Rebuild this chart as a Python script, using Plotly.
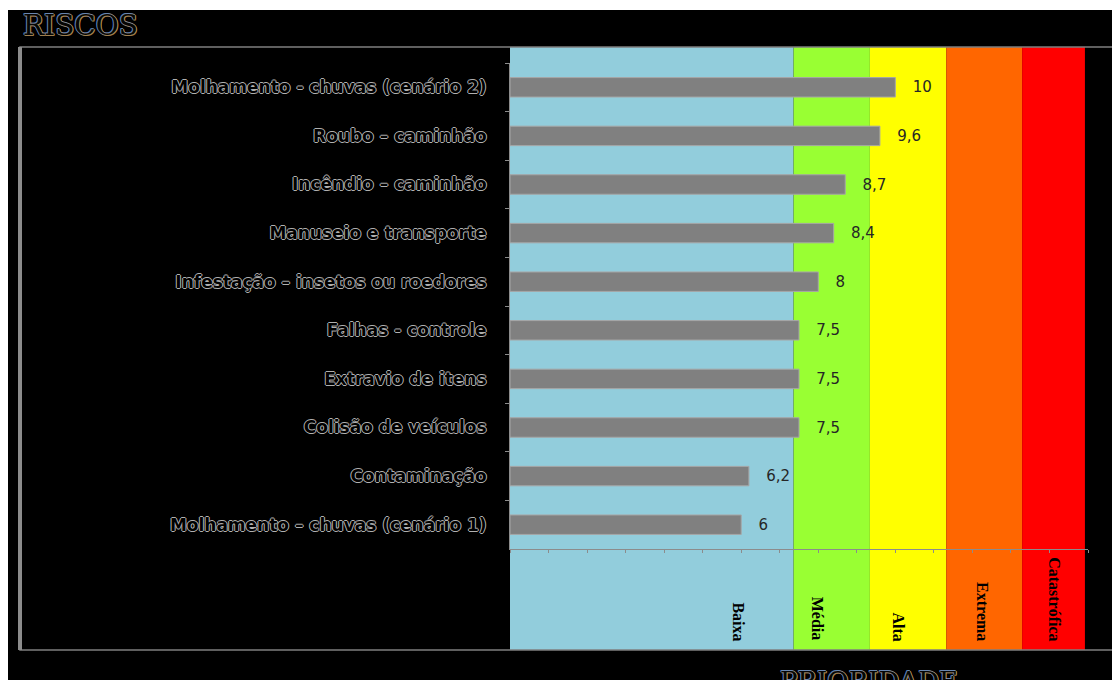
import plotly.graph_objects as go

# ---------------- data ----------------
categories = [
    "Molhamento - chuvas (cenário 2)",
    "Roubo – caminhão",
    "Incêndio – caminhão",
    "Manuseio e transporte",
    "Infestação – insetos ou roedores",
    "Falhas - controle",
    "Extravio de itens",
    "Colisão de veículos",
    "Contaminação",
    "Molhamento – chuvas (cenário 1)",
]
values = [10, 9.6, 8.7, 8.4, 8, 7.5, 7.5, 7.5, 6.2, 6]

band_names = ["Baixa", "Média", "Alta", "Extrema", "Catastrófica"]
band_start = [-0.08, 7.36, 9.34, 11.32, 13.29]
band_end = [7.36, 9.34, 11.32, 13.29, 14.92]
band_colors = ["#92CDDC", "#99FF33", "#FFFF00", "#FF6600", "#FF0000"]
band_label_x = [5.92, 8.0, 10.07, 12.26, 14.14]

value_text = [f"{v:g}".replace(".", ",") for v in values]

# ---------------- layout geometry ----------------
W, H = 1120, 680
OFF = 8                      # page body margin
ML, MT = 502, 55
PW, PH = 578, 486
MR = W - ML - PW
MB = H - MT - PH


def px_x(px):
    """page pixel -> paper x"""
    return (px - OFF - ML) / PW


def px_y(py):
    """page pixel -> paper y"""
    return (MT + PH - (py - OFF)) / PH


outline_gray = ("1px 0 0 #b0b0b0, -1px 0 0 #b0b0b0, 0 1px 0 #b0b0b0, 0 -1px 0 #b0b0b0")
outline_title = ("1px 0 0 #b08a50, -1px 0 0 #5a7ab0, 0 1px 0 #a08050, 0 -1px 0 #6a86b0,"
                 "1px 1px 0 #907040, -1px -1px 0 #50709a")

fig = go.Figure()

fig.add_trace(go.Bar(
    y=categories,
    x=values,
    orientation="h",
    width=0.4,
    marker=dict(color="#808080", line=dict(color="#a6a6a6", width=1)),
    text=["\u00a0\u00a0\u00a0" + t for t in value_text],
    textposition="outside",
    textfont=dict(family="DejaVu Sans", size=15, color="#262626"),
    cliponaxis=False,
    hoverinfo="skip",
))

shapes = []
# thin white strip continuing the top page margin
shapes.append(dict(type="rect", xref="paper", yref="paper",
                   x0=px_x(0), x1=px_x(W + 20), y0=px_y(10), y1=px_y(0),
                   fillcolor="white", line=dict(width=0), layer="below"))
# priority bands
for s, e, c in zip(band_start, band_end, band_colors):
    shapes.append(dict(type="rect", xref="x", yref="paper",
                       x0=s, x1=e, y0=px_y(650), y1=px_y(47),
                       fillcolor=c, line=dict(width=0), layer="below"))
# frame
shapes.append(dict(type="rect", xref="paper", yref="paper",
                   x0=px_x(20), x1=px_x(W + 40), y0=px_y(650), y1=px_y(47),
                   line=dict(color="#7f7f7f", width=1.5), fillcolor="rgba(0,0,0,0)"))
shapes.append(dict(type="line", xref="paper", yref="paper",
                   x0=px_x(20), x1=px_x(20), y0=px_y(650), y1=px_y(47),
                   line=dict(color="#8c8c8c", width=4)))

annotations = []
annotations.append(dict(text="RISCOS", xref="paper", yref="paper",
                        x=px_x(21), y=px_y(25), xanchor="left", yanchor="middle",
                        showarrow=False,
                        font=dict(family="DejaVu Serif", size=28, color="#050505",
                                  shadow=outline_title)))
annotations.append(dict(text="PRIORIDADE", xref="paper", yref="paper",
                        x=px_x(778), y=px_y(664), xanchor="left", yanchor="top",
                        showarrow=False,
                        font=dict(family="DejaVu Serif", size=26, color="#050505",
                                  shadow=outline_title)))
for name, lx in zip(band_names, band_label_x):
    annotations.append(dict(text=name, xref="x", yref="paper",
                            x=lx, y=px_y(643), xanchor="center", yanchor="bottom",
                            textangle=90, showarrow=False,
                            font=dict(family="Liberation Serif", size=16, color="black",
                                      weight="bold")))

fig.update_layout(
    width=W, height=H, autosize=False,
    margin=dict(l=ML, r=MR, t=MT, b=MB, autoexpand=False),
    paper_bgcolor="black",
    plot_bgcolor="rgba(0,0,0,0)",
    showlegend=False,
    shapes=shapes,
    annotations=annotations,
    xaxis=dict(range=[0, 15], dtick=1, showgrid=False, zeroline=False,
               showline=True, linecolor="#8c8c8c", linewidth=1,
               ticks="outside", ticklen=3, tickcolor="#8c8c8c",
               showticklabels=False, fixedrange=True),
    yaxis=dict(type="category", categoryorder="array", categoryarray=categories,
               range=[9.5, -0.5], showgrid=False, zeroline=False,
               showline=True, linecolor="#8c8c8c", linewidth=1,
               ticks="outside", ticklen=4, tickcolor="#8c8c8c",
               tickson="boundaries", ticklabelstandoff=19,
               tickfont=dict(family="DejaVu Sans", size=17, color="black",
                             weight="bold", shadow=outline_gray),
               fixedrange=True),
)

fig.write_html("out.html")
